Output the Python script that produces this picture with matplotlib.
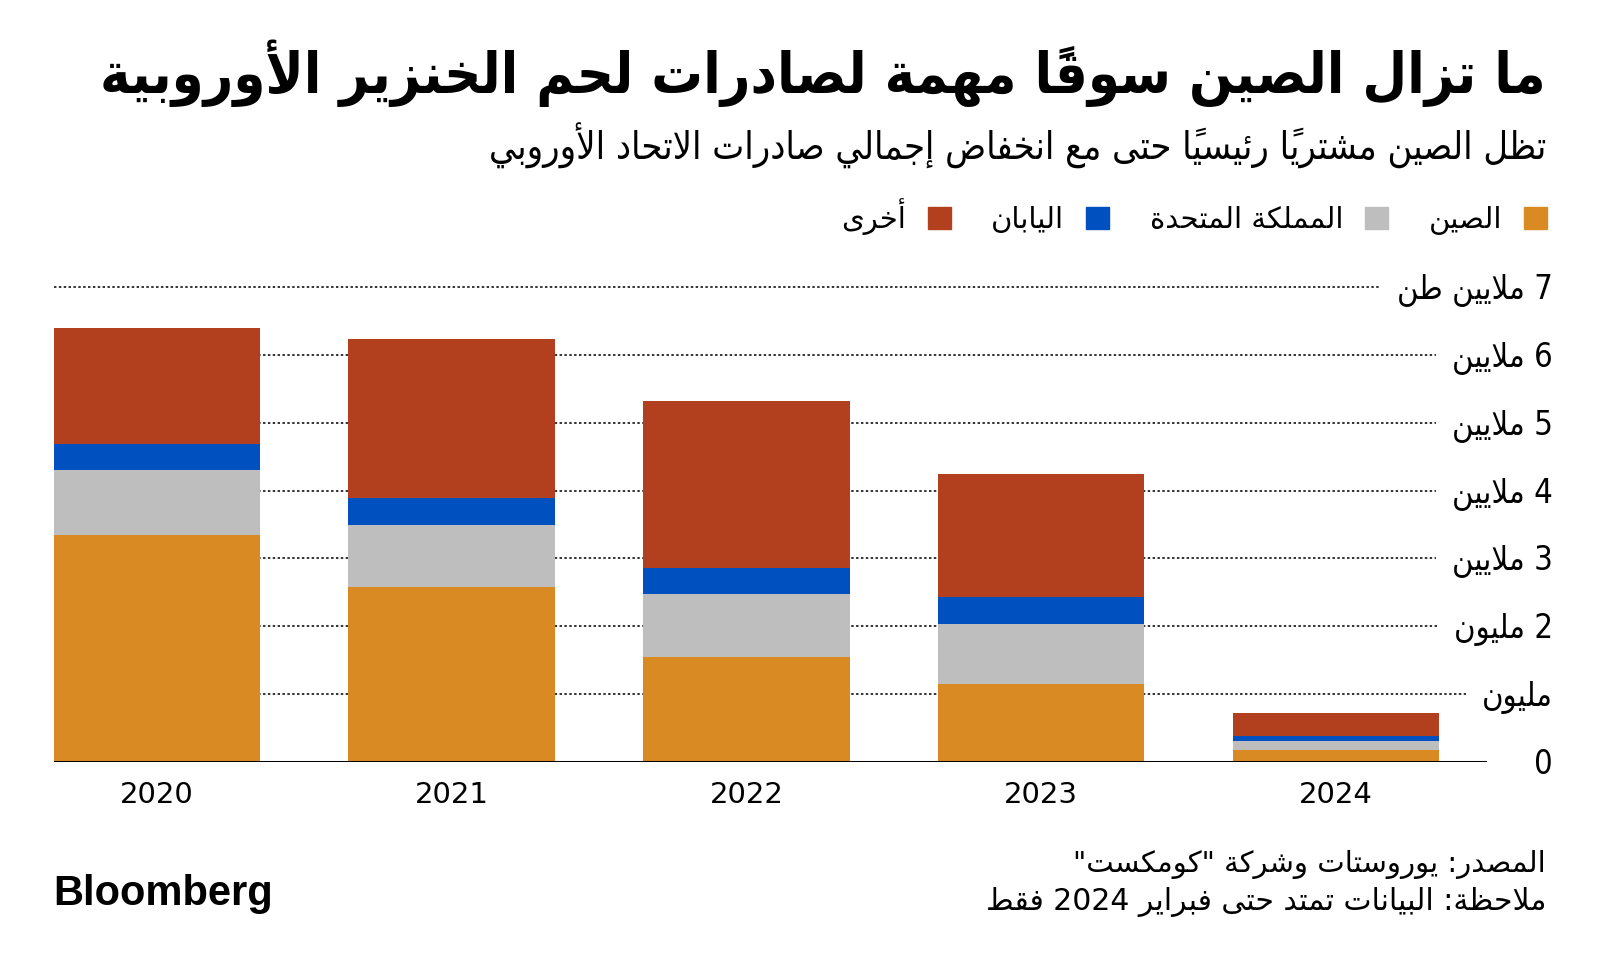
import numpy as np
import matplotlib
matplotlib.use("Agg")
import matplotlib.pyplot as plt
from matplotlib.patches import Patch
from matplotlib import transforms

# --- data (million tonnes) ---
years = ["2020", "2021", "2022", "2023", "2024"]
china = [3.35, 2.58, 1.55, 1.15, 0.18]
uk = [0.95, 0.91, 0.92, 0.89, 0.13]
japan = [0.38, 0.40, 0.39, 0.39, 0.08]
other = [1.72, 2.34, 2.46, 1.81, 0.33]

series_names = ["الصين", "المملكة المتحدة", "اليابان", "أخرى"]
series_colors = ["#DA8A23", "#BEBEBE", "#0050C0", "#B2401E"]

ytick_vals = [0, 1, 2, 3, 4, 5, 6, 7]
ytick_labels = ["0", "مليون", "2 مليون", "3 ملايين", "4 ملايين", "5 ملايين", "6 ملايين", "7 ملايين طن"]

title = "ما تزال الصين سوقاً مهمة لصادرات لحم الخنزير الأوروبية"
subtitle = "تظل الصين مشترياً رئيسياً حتى مع انخفاض إجمالي صادرات الاتحاد الأوروبي"
source = 'المصدر: يوروستات وشركة "كومكست"'
note = "ملاحظة: البيانات تمتد حتى فبراير 2024 فقط"


# matplotlib has no arabic shaping, so do a small one by hand:
# letter -> (isolated presentation form, number of forms)
FORMS = {
    "ء": (0xFE80, 1), "آ": (0xFE81, 2), "أ": (0xFE83, 2), "ؤ": (0xFE85, 2),
    "إ": (0xFE87, 2), "ئ": (0xFE89, 4), "ا": (0xFE8D, 2), "ب": (0xFE8F, 4),
    "ة": (0xFE93, 2), "ت": (0xFE95, 4), "ث": (0xFE99, 4), "ج": (0xFE9D, 4),
    "ح": (0xFEA1, 4), "خ": (0xFEA5, 4), "د": (0xFEA9, 2), "ذ": (0xFEAB, 2),
    "ر": (0xFEAD, 2), "ز": (0xFEAF, 2), "س": (0xFEB1, 4), "ش": (0xFEB5, 4),
    "ص": (0xFEB9, 4), "ض": (0xFEBD, 4), "ط": (0xFEC1, 4), "ظ": (0xFEC5, 4),
    "ع": (0xFEC9, 4), "غ": (0xFECD, 4), "ف": (0xFED1, 4), "ق": (0xFED5, 4),
    "ك": (0xFED9, 4), "ل": (0xFEDD, 4), "م": (0xFEE1, 4), "ن": (0xFEE5, 4),
    "ه": (0xFEE9, 4), "و": (0xFEED, 2), "ى": (0xFEEF, 2), "ي": (0xFEF1, 4),
}
LAM_ALEF = {"آ": 0xFEF5, "أ": 0xFEF7, "إ": 0xFEF9, "ا": 0xFEFB}


def is_mark(ch):
    return "\u064B" <= ch <= "\u0652"


def jtype(b):
    if b.startswith("LA"):
        return 2
    return FORMS[b][1] if b in FORMS else 0


def ar(s):
    clusters = []
    for ch in s:
        if is_mark(ch) and clusters:
            clusters[-1][1].append(ch)
        else:
            clusters.append([ch, []])
    merged = []
    i = 0
    while i < len(clusters):
        b, m = clusters[i]
        if b == "ل" and not m and i + 1 < len(clusters) and clusters[i + 1][0] in LAM_ALEF:
            merged.append(["LA" + clusters[i + 1][0], clusters[i + 1][1]])
            i += 2
        else:
            merged.append([b, m])
            i += 1
    shaped = []
    for i, (b, m) in enumerate(merged):
        t = jtype(b)
        pt = jtype(merged[i - 1][0]) if i > 0 else 0
        nt = jtype(merged[i + 1][0]) if i + 1 < len(merged) else 0
        jp = t >= 2 and pt == 4
        jn = t == 4 and nt >= 2
        if b.startswith("LA"):
            g = chr(LAM_ALEF[b[2]] + (1 if jp else 0))
        elif t == 0:
            g = b
        elif t == 1:
            g = chr(FORMS[b][0])
        else:
            off = 3 if (jp and jn) else 1 if jp else 2 if jn else 0
            g = chr(FORMS[b][0] + off)
        shaped.append((g, m, b.isdigit()))
    # bidi: reverse everything, but keep digit runs left-to-right
    runs = []
    for g, m, ltr in shaped:
        if runs and runs[-1][0] == ltr:
            runs[-1][1].append((g, m))
        else:
            runs.append([ltr, [(g, m)]])
    out = ""
    for ltr, items in reversed(runs):
        seq = items if ltr else reversed(items)
        for g, m in seq:
            out += g + "".join(m)
    return out


plt.rcParams["font.family"] = ["DejaVu Sans"]

fig = plt.figure(figsize=(16, 9.71), dpi=100)
fig.patch.set_facecolor("white")
ax = fig.add_axes([53.6 / 1600, (971 - 762) / 971, (1487 - 53.6) / 1600, (762 - 287) / 971])

x = np.arange(len(years))
bottom = np.zeros(len(years))
for vals, col in zip([china, uk, japan, other], series_colors):
    ax.bar(x, vals, 0.7, bottom=bottom, color=col, zorder=2, linewidth=0)
    bottom += np.array(vals)

ax.set_xlim(-0.35, 4.512)
ax.set_ylim(0, 7)
for s in ax.spines.values():
    s.set_visible(False)
ax.set_yticks([])
ax.set_xticks(x)
ax.set_xticklabels(years, fontsize=21)
ax.tick_params(axis="x", length=0, pad=14)
ax.axhline(0, color="black", lw=2.2, zorder=3)

# y labels sit right of the plot, gridlines stop just before them
lab_trans = transforms.blended_transform_factory(fig.transFigure, ax.transData)
lab_trans = transforms.offset_copy(lab_trans, fig=fig, y=-12, units="dots")
ylabs = []
for v, lab in zip(ytick_vals, ytick_labels):
    t = ax.text(1553 / 1600, v, ar(lab), transform=lab_trans, ha="right", va="baseline",
                fontsize=23.5, fontstretch="condensed", clip_on=False)
    ylabs.append(t)

fig.canvas.draw()
rend = fig.canvas.get_renderer()
for v, t in zip(ytick_vals, ylabs):
    if v == 0:
        continue
    bb = t.get_window_extent(rend)
    x_end = ax.transData.inverted().transform((bb.x0 - 16, 0))[0]
    ax.plot([-0.35, x_end], [v, v], ls=(0, (1.4, 1.4)), color="#1a1a1a", lw=1.25,
            zorder=1, clip_on=False)

# header (condensed dejavu is closer to bloomberg's narrow arabic face)
fig.text(1546 / 1600, 1 - 93 / 971, ar(title), ha="right", va="baseline",
         fontsize=41.3, fontweight="bold", fontstretch="condensed")
fig.text(1546 / 1600, 1 - 160 / 971, ar(subtitle), ha="right", va="baseline",
         fontsize=27.2, fontstretch="condensed")

handles = [Patch(color=c, label=ar(n)) for n, c in zip(series_names, series_colors)][::-1]
fig.legend(handles=handles, ncol=4, loc="center right",
           bbox_to_anchor=(1547 / 1600, 1 - 217 / 971), frameon=False, markerfirst=False,
           fontsize=21, handlelength=0.78, handleheight=0.78, handletextpad=0.75,
           columnspacing=1.4, borderpad=0, borderaxespad=0)

# footer
fig.text(1546 / 1600, 1 - 872 / 971, ar(source), ha="right", va="baseline", fontsize=21)
fig.text(1546 / 1600, 1 - 910 / 971, ar(note), ha="right", va="baseline", fontsize=21.5)
fig.text(53 / 1600, 1 - 905 / 971, "Bloomberg", ha="left", va="baseline",
         fontfamily="Liberation Sans", fontweight="bold", fontsize=30)

fig.savefig("out.png", dpi=100, facecolor="white")
